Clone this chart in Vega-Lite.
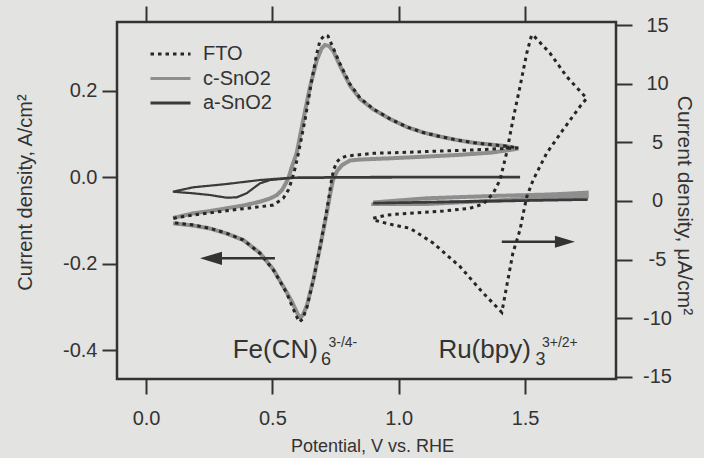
{
  "$schema": "https://vega.github.io/schema/vega-lite/v6.json",
  "width": 499,
  "height": 357,
  "autosize": {"type": "none"},
  "padding": {"left": 117, "top": 22, "right": 88, "bottom": 79},
  "background": "#e3e3e1",
  "config": {
    "view": {"stroke": "#333333", "strokeWidth": 2.5},
    "axis": {"domain": false, "grid": false, "ticks": true, "tickColor": "#333333", "tickWidth": 2, "labelFont": "Liberation Sans", "labelFontSize": 20, "labelColor": "#333333", "titleFont": "Liberation Sans", "titleFontWeight": "normal", "titleColor": "#333333", "labelOverlap": false, "labelBound": false, "labelFlush": false},
    "text": {"font": "Liberation Sans"}
  },
  "resolve": {"scale": {"y": "independent"}, "axis": {"x": "independent"}},
  "layer": [
    {
      "encoding": {
        "x": {"field": "v", "type": "quantitative", "scale": {"domain": [-0.115, 1.86], "nice": false, "zero": false},
          "axis": {"orient": "bottom", "values": [0, 0.5, 1, 1.5], "labelExpr": "format(datum.value, '.1f')", "tickSize": 15, "labelPadding": 14, "title": "Potential, V vs. RHE", "titleFontSize": 18, "titleBaseline": "alphabetic", "titleY": 72, "titleX": 255}},
        "y": {"field": "j", "type": "quantitative", "scale": {"domain": [-0.4666, 0.3589], "nice": false, "zero": false},
          "axis": {"orient": "left", "values": [-0.4, -0.2, 0, 0.2], "labelExpr": "datum.value < 0 ? '-' + format(-datum.value, '.1f') : format(datum.value, '.1f')", "tickSize": 15, "labelPadding": 5, "title": "Current density, A/cm²", "titleFontSize": 20, "titleX": -86, "titleY": 170, "titleBaseline": "alphabetic", "titleAngle": -90, "titleAlign": "center"}}
      },
      "layer": [
        {
          "data": {"values": [
            {"s": "c-SnO2", "i": 1, "v": 0.107, "j": -0.0943},
            {"s": "c-SnO2", "i": 2, "v": 0.187, "j": -0.0835},
            {"s": "c-SnO2", "i": 3, "v": 0.253, "j": -0.0782},
            {"s": "c-SnO2", "i": 4, "v": 0.319, "j": -0.0719},
            {"s": "c-SnO2", "i": 5, "v": 0.385, "j": -0.0654},
            {"s": "c-SnO2", "i": 6, "v": 0.451, "j": -0.0566},
            {"s": "c-SnO2", "i": 7, "v": 0.491, "j": -0.0492},
            {"s": "c-SnO2", "i": 8, "v": 0.518, "j": -0.0412},
            {"s": "c-SnO2", "i": 9, "v": 0.538, "j": -0.0296},
            {"s": "c-SnO2", "i": 10, "v": 0.554, "j": -0.0134},
            {"s": "c-SnO2", "i": 11, "v": 0.566, "j": 0.0028},
            {"s": "c-SnO2", "i": 12, "v": 0.578, "j": 0.0259},
            {"s": "c-SnO2", "i": 13, "v": 0.596, "j": 0.0553},
            {"s": "c-SnO2", "i": 14, "v": 0.622, "j": 0.1323},
            {"s": "c-SnO2", "i": 15, "v": 0.649, "j": 0.2092},
            {"s": "c-SnO2", "i": 16, "v": 0.676, "j": 0.2710},
            {"s": "c-SnO2", "i": 17, "v": 0.695, "j": 0.2980},
            {"s": "c-SnO2", "i": 18, "v": 0.708, "j": 0.3057},
            {"s": "c-SnO2", "i": 19, "v": 0.724, "j": 0.3034},
            {"s": "c-SnO2", "i": 20, "v": 0.741, "j": 0.2918},
            {"s": "c-SnO2", "i": 21, "v": 0.768, "j": 0.2571},
            {"s": "c-SnO2", "i": 22, "v": 0.807, "j": 0.2120},
            {"s": "c-SnO2", "i": 23, "v": 0.847, "j": 0.1808},
            {"s": "c-SnO2", "i": 24, "v": 0.900, "j": 0.1565},
            {"s": "c-SnO2", "i": 25, "v": 0.966, "j": 0.1346},
            {"s": "c-SnO2", "i": 26, "v": 1.032, "j": 0.1161},
            {"s": "c-SnO2", "i": 27, "v": 1.097, "j": 0.1034},
            {"s": "c-SnO2", "i": 28, "v": 1.163, "j": 0.0941},
            {"s": "c-SnO2", "i": 29, "v": 1.230, "j": 0.0860},
            {"s": "c-SnO2", "i": 30, "v": 1.295, "j": 0.0798},
            {"s": "c-SnO2", "i": 31, "v": 1.361, "j": 0.0756},
            {"s": "c-SnO2", "i": 32, "v": 1.427, "j": 0.0717},
            {"s": "c-SnO2", "i": 33, "v": 1.473, "j": 0.0663},
            {"s": "c-SnO2", "i": 34, "v": 1.427, "j": 0.0617},
            {"s": "c-SnO2", "i": 35, "v": 1.361, "j": 0.0566},
            {"s": "c-SnO2", "i": 36, "v": 1.230, "j": 0.0513},
            {"s": "c-SnO2", "i": 37, "v": 1.097, "j": 0.0474},
            {"s": "c-SnO2", "i": 38, "v": 0.966, "j": 0.0437},
            {"s": "c-SnO2", "i": 39, "v": 0.847, "j": 0.0409},
            {"s": "c-SnO2", "i": 40, "v": 0.807, "j": 0.0386},
            {"s": "c-SnO2", "i": 41, "v": 0.776, "j": 0.0282},
            {"s": "c-SnO2", "i": 42, "v": 0.756, "j": 0.0143},
            {"s": "c-SnO2", "i": 43, "v": 0.740, "j": -0.0065},
            {"s": "c-SnO2", "i": 44, "v": 0.728, "j": -0.0412},
            {"s": "c-SnO2", "i": 45, "v": 0.715, "j": -0.0835},
            {"s": "c-SnO2", "i": 46, "v": 0.689, "j": -0.1607},
            {"s": "c-SnO2", "i": 47, "v": 0.662, "j": -0.2377},
            {"s": "c-SnO2", "i": 48, "v": 0.637, "j": -0.2955},
            {"s": "c-SnO2", "i": 49, "v": 0.621, "j": -0.3186},
            {"s": "c-SnO2", "i": 50, "v": 0.611, "j": -0.3244},
            {"s": "c-SnO2", "i": 51, "v": 0.600, "j": -0.3163},
            {"s": "c-SnO2", "i": 52, "v": 0.580, "j": -0.2909},
            {"s": "c-SnO2", "i": 53, "v": 0.557, "j": -0.2666},
            {"s": "c-SnO2", "i": 54, "v": 0.504, "j": -0.2134},
            {"s": "c-SnO2", "i": 55, "v": 0.451, "j": -0.1753},
            {"s": "c-SnO2", "i": 56, "v": 0.385, "j": -0.1452},
            {"s": "c-SnO2", "i": 57, "v": 0.319, "j": -0.1302},
            {"s": "c-SnO2", "i": 58, "v": 0.253, "j": -0.1186},
            {"s": "c-SnO2", "i": 59, "v": 0.187, "j": -0.1117},
            {"s": "c-SnO2", "i": 60, "v": 0.107, "j": -0.1066},
            {"s": "a-SnO2", "i": 1, "v": 0.106, "j": -0.0335},
            {"s": "a-SnO2", "i": 2, "v": 0.186, "j": -0.0234},
            {"s": "a-SnO2", "i": 3, "v": 0.319, "j": -0.0157},
            {"s": "a-SnO2", "i": 4, "v": 0.451, "j": -0.0065},
            {"s": "a-SnO2", "i": 5, "v": 0.582, "j": -0.0007},
            {"s": "a-SnO2", "i": 6, "v": 0.807, "j": 0.0005},
            {"s": "a-SnO2", "i": 7, "v": 1.476, "j": 0.0009},
            {"s": "a-SnO2", "i": 8, "v": 1.476, "j": -0.0002},
            {"s": "a-SnO2", "i": 9, "v": 0.807, "j": -0.0009},
            {"s": "a-SnO2", "i": 10, "v": 0.582, "j": -0.0018},
            {"s": "a-SnO2", "i": 11, "v": 0.491, "j": -0.0065},
            {"s": "a-SnO2", "i": 12, "v": 0.451, "j": -0.0141},
            {"s": "a-SnO2", "i": 13, "v": 0.398, "j": -0.0372},
            {"s": "a-SnO2", "i": 14, "v": 0.359, "j": -0.0465},
            {"s": "a-SnO2", "i": 15, "v": 0.319, "j": -0.0474},
            {"s": "a-SnO2", "i": 16, "v": 0.253, "j": -0.0412},
            {"s": "a-SnO2", "i": 17, "v": 0.186, "j": -0.0372},
            {"s": "a-SnO2", "i": 18, "v": 0.106, "j": -0.0335},
            {"s": "FTO", "i": 1, "v": 0.108, "j": -0.0950},
            {"s": "FTO", "i": 2, "v": 0.187, "j": -0.0874},
            {"s": "FTO", "i": 3, "v": 0.319, "j": -0.0775},
            {"s": "FTO", "i": 4, "v": 0.451, "j": -0.0682},
            {"s": "FTO", "i": 5, "v": 0.504, "j": -0.0643},
            {"s": "FTO", "i": 6, "v": 0.543, "j": -0.0488},
            {"s": "FTO", "i": 7, "v": 0.563, "j": -0.0296},
            {"s": "FTO", "i": 8, "v": 0.577, "j": -0.0065},
            {"s": "FTO", "i": 9, "v": 0.590, "j": 0.0213},
            {"s": "FTO", "i": 10, "v": 0.603, "j": 0.0553},
            {"s": "FTO", "i": 11, "v": 0.629, "j": 0.1323},
            {"s": "FTO", "i": 12, "v": 0.656, "j": 0.2247},
            {"s": "FTO", "i": 13, "v": 0.676, "j": 0.2865},
            {"s": "FTO", "i": 14, "v": 0.689, "j": 0.3172},
            {"s": "FTO", "i": 15, "v": 0.708, "j": 0.3288},
            {"s": "FTO", "i": 16, "v": 0.720, "j": 0.3265},
            {"s": "FTO", "i": 17, "v": 0.741, "j": 0.2987},
            {"s": "FTO", "i": 18, "v": 0.768, "j": 0.2617},
            {"s": "FTO", "i": 19, "v": 0.807, "j": 0.2155},
            {"s": "FTO", "i": 20, "v": 0.847, "j": 0.1831},
            {"s": "FTO", "i": 21, "v": 0.900, "j": 0.1577},
            {"s": "FTO", "i": 22, "v": 0.966, "j": 0.1346},
            {"s": "FTO", "i": 23, "v": 1.032, "j": 0.1161},
            {"s": "FTO", "i": 24, "v": 1.097, "j": 0.1034},
            {"s": "FTO", "i": 25, "v": 1.163, "j": 0.0941},
            {"s": "FTO", "i": 26, "v": 1.230, "j": 0.0860},
            {"s": "FTO", "i": 27, "v": 1.295, "j": 0.0798},
            {"s": "FTO", "i": 28, "v": 1.361, "j": 0.0756},
            {"s": "FTO", "i": 29, "v": 1.427, "j": 0.0717},
            {"s": "FTO", "i": 30, "v": 1.473, "j": 0.0675},
            {"s": "FTO", "i": 31, "v": 1.427, "j": 0.0668},
            {"s": "FTO", "i": 32, "v": 1.295, "j": 0.0629},
            {"s": "FTO", "i": 33, "v": 1.163, "j": 0.0606},
            {"s": "FTO", "i": 34, "v": 1.032, "j": 0.0576},
            {"s": "FTO", "i": 35, "v": 0.900, "j": 0.0553},
            {"s": "FTO", "i": 36, "v": 0.794, "j": 0.0490},
            {"s": "FTO", "i": 37, "v": 0.768, "j": 0.0432},
            {"s": "FTO", "i": 38, "v": 0.755, "j": 0.0351},
            {"s": "FTO", "i": 39, "v": 0.742, "j": 0.0166},
            {"s": "FTO", "i": 40, "v": 0.734, "j": -0.0065},
            {"s": "FTO", "i": 41, "v": 0.722, "j": -0.0527},
            {"s": "FTO", "i": 42, "v": 0.712, "j": -0.0874},
            {"s": "FTO", "i": 43, "v": 0.689, "j": -0.1607},
            {"s": "FTO", "i": 44, "v": 0.662, "j": -0.2377},
            {"s": "FTO", "i": 45, "v": 0.636, "j": -0.3024},
            {"s": "FTO", "i": 46, "v": 0.619, "j": -0.3280},
            {"s": "FTO", "i": 47, "v": 0.607, "j": -0.3348},
            {"s": "FTO", "i": 48, "v": 0.596, "j": -0.3225},
            {"s": "FTO", "i": 49, "v": 0.576, "j": -0.2955},
            {"s": "FTO", "i": 50, "v": 0.557, "j": -0.2684},
            {"s": "FTO", "i": 51, "v": 0.504, "j": -0.2146},
            {"s": "FTO", "i": 52, "v": 0.451, "j": -0.1760},
            {"s": "FTO", "i": 53, "v": 0.385, "j": -0.1452},
            {"s": "FTO", "i": 54, "v": 0.319, "j": -0.1297},
            {"s": "FTO", "i": 55, "v": 0.253, "j": -0.1182},
            {"s": "FTO", "i": 56, "v": 0.187, "j": -0.1105},
            {"s": "FTO", "i": 57, "v": 0.108, "j": -0.1052}
          ]},
          "mark": {"type": "line", "interpolate": "linear"},
          "encoding": {
            "order": {"field": "i", "type": "quantitative"},
            "color": {"field": "s", "type": "nominal", "scale": {"domain": ["FTO", "c-SnO2", "a-SnO2"], "range": ["#262626", "#8e8e8e", "#3a3a3a"]},
              "legend": {"title": null, "orient": "none", "legendX": 32, "legendY": 20, "symbolType": "stroke", "symbolSize": 1600, "symbolStrokeWidth": 3, "clipHeight": 24, "rowPadding": 0.5, "labelOffset": 11, "padding": 0, "labelFont": "Liberation Sans", "labelFontSize": 20, "labelColor": "#333333", "labelLimit": 200}},
            "strokeDash": {"field": "s", "type": "nominal", "scale": {"domain": ["FTO", "c-SnO2", "a-SnO2"], "range": [[3.5, 4], [1, 0], [1, 0]]},
              "legend": {"title": null, "orient": "none", "legendX": 32, "legendY": 20, "symbolType": "stroke", "symbolSize": 1600, "symbolStrokeWidth": 3, "clipHeight": 24, "rowPadding": 0.5, "labelOffset": 11, "padding": 0, "labelFont": "Liberation Sans", "labelFontSize": 20, "labelColor": "#333333", "labelLimit": 200}},
            "strokeWidth": {"condition": [{"test": "datum.s === 'c-SnO2'", "value": 4}, {"test": "datum.s === 'FTO'", "value": 3}], "value": 2.2}
          }
        },
        {
          "data": {"values": [{"v": 0.257, "v2": 0.51, "j": -0.1875}]},
          "mark": {"type": "rule", "color": "#333333", "strokeWidth": 2.5},
          "encoding": {"x2": {"field": "v2"}}
        },
        {
          "data": {"values": [{"v": 0.257, "j": -0.1875}]},
          "mark": {"type": "point", "shape": "M-1,0L1,-0.6L1,0.6Z", "filled": true, "color": "#333333", "opacity": 1, "size": 484},
          "encoding": {}
        },
        {
          "data": {"values": [
            {"label": "Fe(CN)", "kind": "main", "v": 0.343, "j": -0.418},
            {"label": "6", "kind": "sub", "v": 0.6925, "j": -0.4342},
            {"label": "3-/4-", "kind": "sup", "v": 0.722, "j": -0.3919}
          ]},
          "mark": {"type": "text", "align": "left", "baseline": "alphabetic", "font": "Liberation Sans", "color": "#333333"},
          "encoding": {
            "text": {"field": "label"},
            "size": {"condition": [{"test": "datum.kind === 'main'", "value": 26}, {"test": "datum.kind === 'sub'", "value": 18}], "value": 14}
          }
        }
      ]
    },
    {
      "encoding": {
        "x": {"field": "v", "type": "quantitative", "scale": {"domain": [-0.115, 1.86], "nice": false, "zero": false},
          "axis": {"orient": "top", "values": [0, 0.5, 1, 1.5], "labels": false, "title": null, "tickSize": 16}},
        "y": {"field": "j", "type": "quantitative", "scale": {"domain": [-15.19, 15.27], "nice": false, "zero": false},
          "axis": {"orient": "right", "values": [-15, -10, -5, 0, 5, 10, 15], "labelExpr": "datum.value < 0 ? '-' + format(-datum.value, 'd') : format(datum.value, 'd')", "tickSize": 16, "labelPadding": 25, "labelAlign": "center", "title": "Current density, μA/cm²", "titleFontSize": 21, "titleX": 61, "titleY": 183, "titleBaseline": "alphabetic", "titleAngle": 90, "titleAlign": "center"}}
      },
      "layer": [
        {
          "data": {"values": [
            {"s": "c-SnO2", "i": 1, "v": 0.899, "j": -0.128},
            {"s": "c-SnO2", "i": 2, "v": 1.111, "j": 0.230},
            {"s": "c-SnO2", "i": 3, "v": 1.374, "j": 0.427},
            {"s": "c-SnO2", "i": 4, "v": 1.599, "j": 0.555},
            {"s": "c-SnO2", "i": 5, "v": 1.744, "j": 0.708},
            {"s": "c-SnO2", "i": 6, "v": 1.744, "j": 0.384},
            {"s": "c-SnO2", "i": 7, "v": 1.599, "j": 0.256},
            {"s": "c-SnO2", "i": 8, "v": 1.374, "j": 0.026},
            {"s": "c-SnO2", "i": 9, "v": 1.111, "j": -0.256},
            {"s": "c-SnO2", "i": 10, "v": 0.899, "j": -0.256},
            {"s": "c-SnO2", "i": 11, "v": 0.899, "j": -0.128},
            {"s": "a-SnO2", "i": 1, "v": 0.899, "j": -0.171},
            {"s": "a-SnO2", "i": 2, "v": 1.203, "j": -0.043},
            {"s": "a-SnO2", "i": 3, "v": 1.744, "j": 0.145},
            {"s": "a-SnO2", "i": 4, "v": 1.744, "j": 0.102},
            {"s": "a-SnO2", "i": 5, "v": 1.203, "j": -0.102},
            {"s": "a-SnO2", "i": 6, "v": 0.899, "j": -0.205},
            {"s": "FTO", "i": 1, "v": 0.899, "j": -1.476},
            {"s": "FTO", "i": 2, "v": 0.953, "j": -1.195},
            {"s": "FTO", "i": 3, "v": 1.045, "j": -1.049},
            {"s": "FTO", "i": 4, "v": 1.177, "j": -0.853},
            {"s": "FTO", "i": 5, "v": 1.282, "j": -0.623},
            {"s": "FTO", "i": 6, "v": 1.335, "j": -0.256},
            {"s": "FTO", "i": 7, "v": 1.374, "j": 0.657},
            {"s": "FTO", "i": 8, "v": 1.401, "j": 1.792},
            {"s": "FTO", "i": 9, "v": 1.427, "j": 4.096},
            {"s": "FTO", "i": 10, "v": 1.452, "j": 6.911},
            {"s": "FTO", "i": 11, "v": 1.480, "j": 9.753},
            {"s": "FTO", "i": 12, "v": 1.507, "j": 12.628},
            {"s": "FTO", "i": 13, "v": 1.526, "j": 14.164},
            {"s": "FTO", "i": 14, "v": 1.535, "j": 14.08},
            {"s": "FTO", "i": 15, "v": 1.599, "j": 12.602},
            {"s": "FTO", "i": 16, "v": 1.665, "j": 10.606},
            {"s": "FTO", "i": 17, "v": 1.744, "j": 8.763},
            {"s": "FTO", "i": 18, "v": 1.717, "j": 8.046},
            {"s": "FTO", "i": 19, "v": 1.650, "j": 6.058},
            {"s": "FTO", "i": 20, "v": 1.586, "j": 4.096},
            {"s": "FTO", "i": 21, "v": 1.532, "j": 1.792},
            {"s": "FTO", "i": 22, "v": 1.507, "j": 0.367},
            {"s": "FTO", "i": 23, "v": 1.493, "j": -1.049},
            {"s": "FTO", "i": 24, "v": 1.480, "j": -2.474},
            {"s": "FTO", "i": 25, "v": 1.452, "j": -4.437},
            {"s": "FTO", "i": 26, "v": 1.427, "j": -7.312},
            {"s": "FTO", "i": 27, "v": 1.408, "j": -9.50},
            {"s": "FTO", "i": 28, "v": 1.334, "j": -7.850},
            {"s": "FTO", "i": 29, "v": 1.243, "j": -5.606},
            {"s": "FTO", "i": 30, "v": 1.136, "j": -3.584},
            {"s": "FTO", "i": 31, "v": 1.045, "j": -2.329},
            {"s": "FTO", "i": 32, "v": 0.979, "j": -2.048},
            {"s": "FTO", "i": 33, "v": 0.899, "j": -1.621}
          ]},
          "mark": {"type": "line", "interpolate": "linear"},
          "encoding": {
            "order": {"field": "i", "type": "quantitative"},
            "color": {"field": "s", "type": "nominal", "scale": {"domain": ["FTO", "c-SnO2", "a-SnO2"], "range": ["#262626", "#8e8e8e", "#3a3a3a"]}, "legend": null},
            "strokeDash": {"field": "s", "type": "nominal", "scale": {"domain": ["FTO", "c-SnO2", "a-SnO2"], "range": [[3.5, 4], [1, 0], [1, 0]]}, "legend": null},
            "strokeWidth": {"condition": [{"test": "datum.s === 'c-SnO2'", "value": 4}, {"test": "datum.s === 'FTO'", "value": 3}], "value": 2.2}
          }
        },
        {
          "data": {"values": [{"v": 1.408, "v2": 1.658, "j": -3.473}]},
          "mark": {"type": "rule", "color": "#333333", "strokeWidth": 2.5},
          "encoding": {"x2": {"field": "v2"}}
        },
        {
          "data": {"values": [{"v": 1.658, "j": -3.473}]},
          "mark": {"type": "point", "shape": "M1,0L-1,-0.6L-1,0.6Z", "filled": true, "color": "#333333", "opacity": 1, "size": 400},
          "encoding": {}
        },
        {
          "data": {"values": [
            {"label": "Ru(bpy)", "kind": "main", "v": 1.157, "j": -13.40},
            {"label": "3", "kind": "sub", "v": 1.541, "j": -13.99},
            {"label": "3+/2+", "kind": "sup", "v": 1.567, "j": -12.43}
          ]},
          "mark": {"type": "text", "align": "left", "baseline": "alphabetic", "font": "Liberation Sans", "color": "#333333"},
          "encoding": {
            "text": {"field": "label"},
            "size": {"condition": [{"test": "datum.kind === 'main'", "value": 26}, {"test": "datum.kind === 'sub'", "value": 18}], "value": 14}
          }
        }
      ]
    }
  ]
}
